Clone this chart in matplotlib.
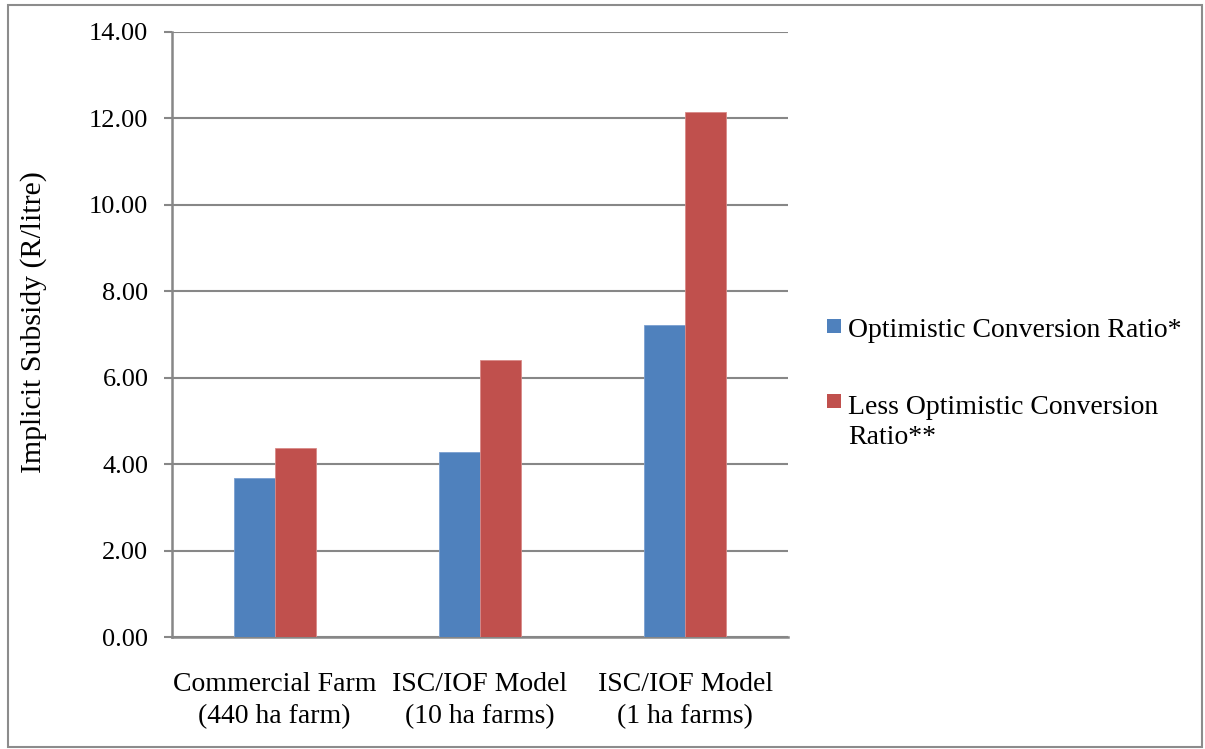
import numpy as np
import matplotlib
matplotlib.use("Agg")
import matplotlib.pyplot as plt
from matplotlib.patches import Rectangle

# data
categories = ["Commercial Farm\n(440 ha farm)",
              "ISC/IOF Model\n(10 ha farms)",
              "ISC/IOF Model\n(1 ha farms)"]
optimistic = [3.67, 4.29, 7.22]
less_optimistic = [4.38, 6.40, 12.15]
series_names = ["Optimistic Conversion Ratio*",
                "Less Optimistic Conversion\nRatio**"]
yticks = np.arange(0, 14.01, 2)

blue = "#4F81BD"
red = "#C0504D"
grid_col = "#878787"

matplotlib.rcParams['font.family'] = ['Liberation Serif', 'DejaVu Serif']
matplotlib.rcParams['font.size'] = 19

fig = plt.figure(figsize=(12.05, 7.49), dpi=100)
ax = fig.add_axes([172/1205, 1 - 637/749, (788-172)/1205, (637-32)/749])

x = np.arange(len(categories))
w = 0.2
ax.bar(x - w/2, optimistic, w, color=blue, edgecolor="#7A9FD0", lw=0.6, zorder=3)
ax.bar(x + w/2, less_optimistic, w, color=red, edgecolor="#D98A88", lw=0.6, zorder=3)

ax.set_xlim(-0.5, 2.5)
ax.set_ylim(0, 14)
ax.set_yticks(yticks)
ax.set_yticklabels(["%.2f" % v for v in yticks])
ax.set_xticks(x)
ax.set_xticklabels(categories, linespacing=1.38, fontsize=20)
ax.tick_params(axis='x', length=0, pad=25)
ax.tick_params(axis='y', length=6, width=1.5, color=grid_col, pad=11)
ax.yaxis.grid(True, color=grid_col, lw=1.5, zorder=0)
ax.set_axisbelow(True)
for s in ["top", "right"]:
    ax.spines[s].set_visible(False)
for s in ["left", "bottom"]:
    ax.spines[s].set_color(grid_col)
    ax.spines[s].set_linewidth(1.8)

fig.text(34/1205, 1 - 322/749, "Implicit Subsidy (R/litre)", rotation=90,
         ha="center", va="center", fontsize=21.5)

# legend, drawn by hand like the Excel one
# (baseline given for the last line of each label)
for i, (name, col) in enumerate(zip(series_names, [blue, red])):
    sq_top = [319, 394][i]
    base = [336.5, 444][i]
    fig.patches.append(Rectangle((827/1205, 1 - (sq_top + 14)/749), 14/1205, 14/749,
                                 transform=fig.transFigure, facecolor=col,
                                 edgecolor="none"))
    fig.text(848/1205, 1 - base/749, name, ha="left", va="baseline",
             linespacing=1.28, fontsize=20)

# outer chart border
fig.patches.append(Rectangle((8/1205, 2/749), 1194/1205, 742/749,
                             transform=fig.transFigure, fill=False,
                             edgecolor="#8C8C8C", lw=1.5))

plt.savefig("out.png", dpi=100)
